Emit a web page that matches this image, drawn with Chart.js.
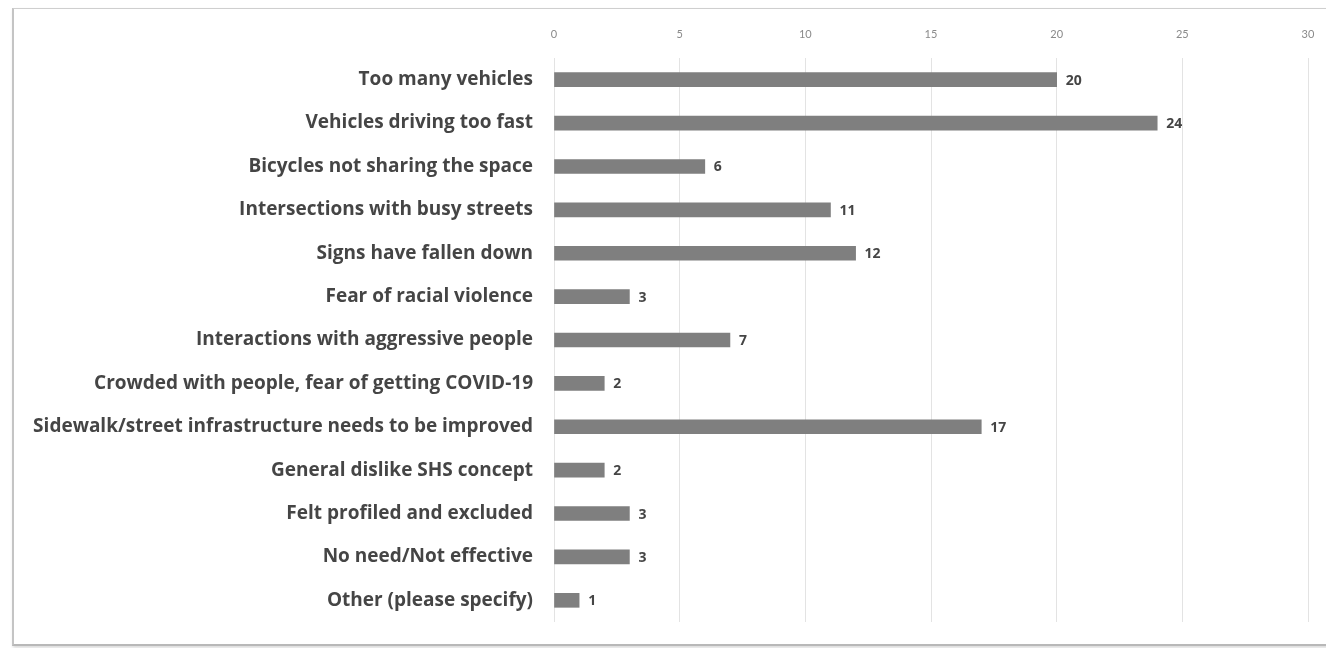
<!DOCTYPE html>
<html>
<head>
<meta charset="utf-8">
<script src="https://cdn.jsdelivr.net/npm/chart.js@4/dist/chart.umd.min.js"></script>
<style>
  html, body { margin: 0; padding: 0; background: #fff; }
  #wrap { position: relative; width: 1326px; height: 648px; }
  #frame { position: absolute; left: 12px; top: 8px; width: 1320px; height: 635px;
           border: 1px solid #cfcfcf; border-bottom: 2px solid #b8b8b8; border-left: 2px solid #c4c4c4;
           box-shadow: 1px 2px 3px rgba(0,0,0,0.15); }
  canvas { position: absolute; left: 0; top: 0; }
</style>
</head>
<body>
<div id="wrap">
  <div id="frame"></div>
  <canvas id="chart" width="1326" height="648"></canvas>
</div>
<script>
// data
const categories = [
  "Too many vehicles",
  "Vehicles driving too fast",
  "Bicycles not sharing the space",
  "Intersections with busy streets",
  "Signs have fallen down",
  "Fear of racial violence",
  "Interactions with aggressive people",
  "Crowded with people, fear of getting COVID-19",
  "Sidewalk/street infrastructure needs to be improved",
  "General dislike SHS concept",
  "Felt profiled and excluded",
  "No need/Not effective",
  "Other (please specify)"
];
const counts = [20, 24, 6, 11, 12, 3, 7, 2, 17, 2, 3, 3, 1];
const xTicks = [0, 5, 10, 15, 20, 25, 30];

const labelFont = "'Open Sans', Lato, sans-serif";

// value labels at the end of each bar
const endLabels = {
  id: 'endLabels',
  afterDatasetsDraw(chart) {
    const ctx = chart.ctx;
    const meta = chart.getDatasetMeta(0);
    ctx.save();
    ctx.font = "bold 14px " + labelFont;
    ctx.fillStyle = "#454545";
    ctx.textAlign = "left";
    ctx.textBaseline = "middle";
    meta.data.forEach((bar, i) => {
      ctx.fillText(String(counts[i]), bar.x + 9, bar.y + 1);
    });
    ctx.restore();
  }
};

new Chart(document.getElementById('chart'), {
  type: 'bar',
  data: {
    labels: categories,
    datasets: [{
      data: counts,
      backgroundColor: '#7f7f7f',
      barThickness: 14
    }]
  },
  options: {
    indexAxis: 'y',
    responsive: false,
    animation: false,
    layout: { padding: { left: 0, right: 18, top: 0, bottom: 26 } },
    plugins: { legend: { display: false }, tooltip: { enabled: false } },
    scales: {
      x: {
        position: 'top',
        min: 0, max: 30,
        afterBuildTicks(scale) { scale.ticks = xTicks.map(v => ({ value: v })); },
        afterFit(scale) {
          scale.height = 58;
          scale.paddingLeft = 0; scale.paddingRight = 0;
        },
        ticks: { color: '#8a8a8a', font: { family: "Lato, sans-serif", size: 11 }, padding: 17 },
        grid: { color: '#e3e3e3', drawTicks: false },
        border: { display: false }
      },
      y: {
        afterFit(scale) {
          scale.width = 554;
          scale.paddingTop = 0; scale.paddingBottom = 0;
        },
        ticks: { color: '#454545', font: { family: labelFont, size: 19, weight: 'bold' }, padding: 21 },
        grid: { display: false, drawTicks: false },
        border: { display: false }
      }
    }
  },
  plugins: [endLabels]
});
</script>
</body>
</html>
